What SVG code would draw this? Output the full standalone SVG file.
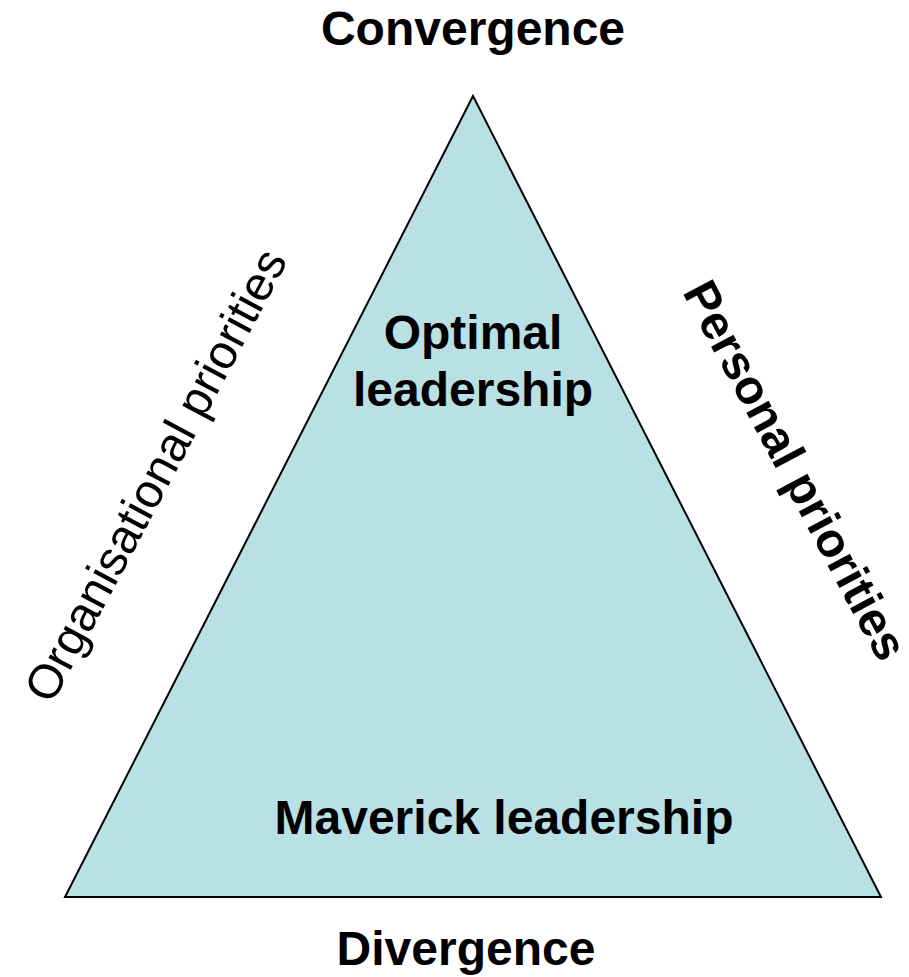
<svg xmlns="http://www.w3.org/2000/svg" width="909" height="977" viewBox="0 0 909 977">
  <style>
    .lbl { font-family: "Liberation Sans", Arial, sans-serif; font-size: 48px; fill: #000; text-anchor: middle; }
    .b { font-weight: bold; }
  </style>
  <rect width="909" height="977" fill="#ffffff"/>
  <g id="triangle">
    <polygon points="473,96 65,897 881,897" fill="#b9e0e4" stroke="#000" stroke-width="2" stroke-linejoin="miter"/>
  </g>
  <g id="convergence">
    <text class="lbl b" x="473" y="45">Convergence</text>
  </g>
  <g id="divergence">
    <text class="lbl b" x="466" y="965">Divergence</text>
  </g>
  <g id="optimal">
    <text class="lbl b" x="473" y="349">Optimal</text>
    <text class="lbl b" x="473" y="406">leadership</text>
  </g>
  <g id="maverick">
    <text class="lbl b" x="504" y="834">Maverick leadership</text>
  </g>
  <g id="organisational">
    <text class="lbl" x="170" y="483" transform="rotate(-62 170 483)">Organisational priorities</text>
  </g>
  <g id="personal">
    <text class="lbl b" x="781" y="478" transform="rotate(62 781 478)">Personal priorities</text>
  </g>
</svg>
